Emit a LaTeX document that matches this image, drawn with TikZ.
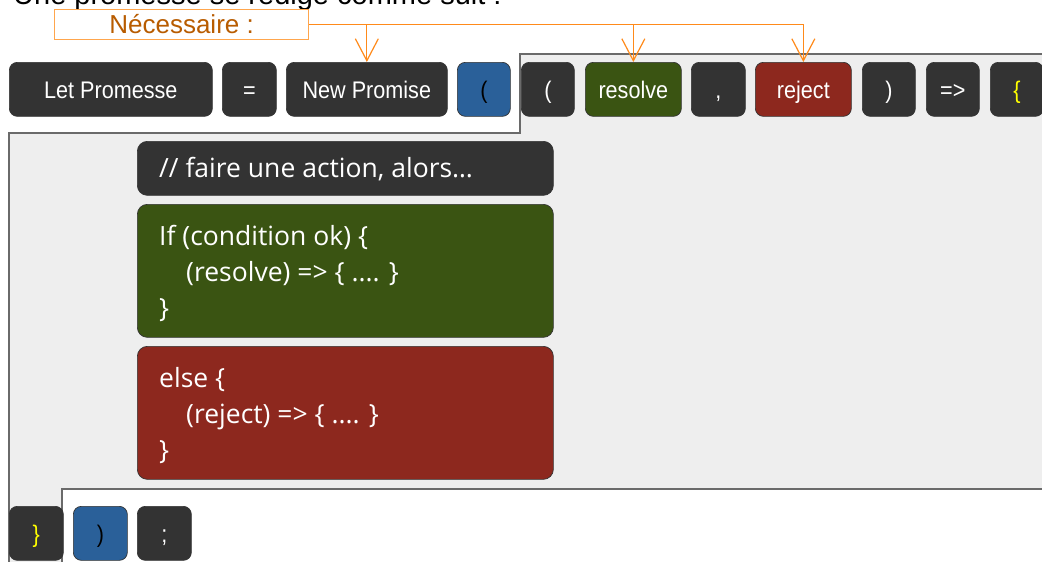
\documentclass[tikz,border=0pt]{standalone}
\usepackage{fontspec}
\setmainfont{Liberation Sans}
\newfontfamily\narrowf[FakeStretch=0.9]{Liberation Sans}
\newfontfamily\opens{Open Sans}
\usetikzlibrary{arrows.meta}
\definecolor{tokdark}{HTML}{333333}
\definecolor{tokgreen}{RGB}{58,84,18}
\definecolor{tokred}{HTML}{8D281E}
\definecolor{tokblue}{HTML}{2A6099}
\definecolor{tokyellow}{HTML}{FFFF00}
\definecolor{regfill}{HTML}{EEEEEE}
\definecolor{regline}{HTML}{6A6A6A}
\definecolor{orline}{HTML}{FF8A1A}
\definecolor{orbox}{HTML}{FFA64D}
\definecolor{ortext}{HTML}{B85C00}
\tikzset{
  tok/.style={draw=black!80, line width=0.7pt, rounded corners=8pt,
    minimum height=54pt, inner sep=0pt, anchor=north west,
    font=\narrowf\fontsize{24}{28}\selectfont, text=white,
    text height=17.5pt, text depth=0pt},
  codebox/.style={draw=black!80, line width=0.7pt, rounded corners=10pt,
    minimum width=416pt, inner sep=0pt, anchor=north west},
  codetxt/.style={anchor=base west, inner sep=0pt, text=white,
    font=\opens\fontsize{26.5}{36}\selectfont},
  conn/.style={draw=orline, line width=1.2pt,
    -{Straight Barb[length=22pt,width=23pt,line width=1.2pt]}}
}
\begin{document}
\begin{tikzpicture}[x=1pt,y=-1pt]
\clip (0,0) rectangle (1042,562);
\fill[white] (0,0) rectangle (1042,562);

% title (cut at the top)
\node[anchor=base west, inner sep=0pt, font=\fontsize{29}{34}\selectfont] (title) at (13,5) {Une promesse se rédige comme suit :};

% grey region
\draw[fill=regfill, draw=regline, line width=1.4pt]
  (9,575) -- (9,133) -- (520,133) -- (520,54) -- (1055,54) -- (1055,489) -- (62,489) -- (62,575) -- cycle;

% top row
\node[tok, fill=tokdark, minimum width=203pt] (let) at (9,62) {Let Promesse};
\node[tok, fill=tokdark, minimum width=54pt] (eq) at (222,62) {=};
\node[tok, fill=tokdark, minimum width=161pt] (newp) at (286,62) {New Promise};
\node[tok, fill=tokblue, minimum width=53pt, text=black] (lpa) at (457,62) {(};
\node[tok, fill=tokdark, minimum width=53pt] (lpb) at (521,62) {(};
\node[tok, fill=tokgreen, minimum width=96pt] (res) at (585,62) {resolve};
\node[tok, fill=tokdark, minimum width=54pt] (comma) at (691,62) {,};
\node[tok, fill=tokred, minimum width=96pt] (rej) at (755,62) {reject};
\node[tok, fill=tokdark, minimum width=53pt] (rpb) at (862,62) {)};
\node[tok, fill=tokdark, minimum width=53pt] (arr) at (926,62) {=>};
\node[tok, fill=tokdark, minimum width=53pt, text=tokyellow] (lbr) at (990,62) {\{};

% body
\node[codebox, fill=tokdark, minimum height=54pt] (com) at (137,141) {};
\node[codetxt] (comt) at (159,177.5) {// faire une action, alors…};

\node[codebox, fill=tokgreen, minimum height=133pt] (green) at (137,204) {};
\node[codetxt] (g1) at (159,245) {If (condition ok) \{};
\node[codetxt] (g2) at (186,281) {(resolve) => \{ .... \}};
\node[codetxt] (g3) at (159,317) {\}};

\node[codebox, fill=tokred, minimum height=133pt] (red) at (137,346) {};
\node[codetxt] (r1) at (159,387) {else \{};
\node[codetxt] (r2) at (186,423) {(reject) => \{ .... \}};
\node[codetxt] (r3) at (159,459) {\}};

% bottom row
\node[tok, fill=tokdark, minimum width=54pt, text=tokyellow] (rbr) at (9,506) {\}};
\node[tok, fill=tokblue, minimum width=54pt, text=black] (rpa) at (73,506) {)};
\node[tok, fill=tokdark, minimum width=54pt] (semi) at (137,506) {;};

% Nécessaire
\node[draw=orbox, fill=white, line width=1.2pt, minimum width=254pt, minimum height=30pt,
  inner sep=0pt, anchor=north west, text=ortext, font=\fontsize{26}{30}\selectfont,
  text height=18pt, text depth=0pt] (nec) at (54,9) {Nécessaire :};

\draw[conn] (nec.east) -| (newp.north);
\draw[conn] (nec.east) -| (res.north);
\draw[conn] (nec.east) -| (rej.north);
\end{tikzpicture}
\end{document}
